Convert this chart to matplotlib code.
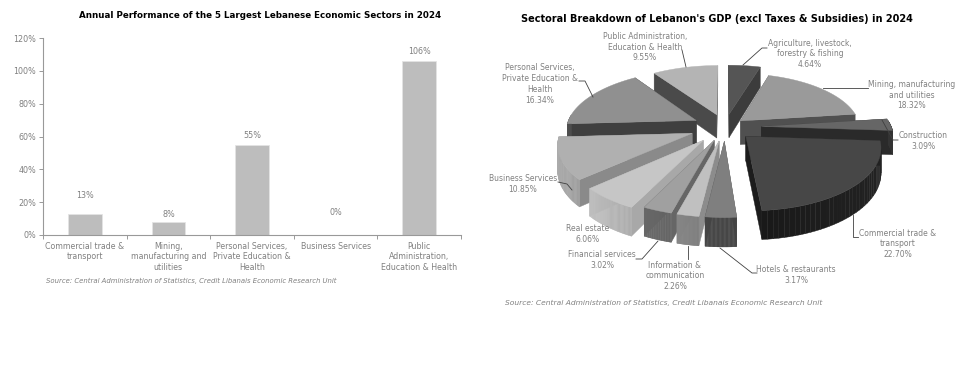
import numpy as np
import matplotlib
matplotlib.use('Agg')
import matplotlib.pyplot as plt
from matplotlib.patches import Polygon

# lewy wykres
bar_labels = ['Commercial trade &\ntransport', 'Mining,\nmanufacturing and\nutilities',
              'Personal Services,\nPrivate Education &\nHealth', 'Business Services',
              'Public\nAdministration,\nEducation & Health']
bar_values = [13, 8, 55, 0, 106]
bar_pad = [18, 7, 9, 22, 9]

# prawy wykres
pie_labels = ['Agriculture, livestock,\nforestry & fishing\n4.64%', 'Mining, manufacturing\nand utilities\n18.32%',
              'Construction\n3.09%', 'Commercial trade &\ntransport\n22.70%', 'Hotels & restaurants\n3.17%',
              'Information &\ncommunication\n2.26%', 'Financial services\n3.02%', 'Real estate\n6.06%',
              'Business Services\n10.85%', 'Personal Services,\nPrivate Education &\nHealth\n16.34%',
              'Public Administration,\nEducation & Health\n9.55%']
pie_values = [4.64, 18.32, 3.09, 22.70, 3.17, 2.26, 3.02, 6.06, 10.85, 16.34, 9.55]
top_cols = ['#555555', '#9a9a9a', '#666666', '#474747', '#7f7f7f', '#c0c0c0', '#a0a0a0', '#c6c6c6', '#b0b0b0', '#909090', '#b4b4b4']
side_cols = ['#3c3c3c', '#505050', '#2a2a2a', '#1c1c1c', '#4d4d4d', '#8c8c8c', '#666666', '#a8a8a8', '#8a8a8a', '#3f3f3f', '#4a4a4a']
explode = [.22, .16, .28, .22, .23, .23, .23, .27, .27, .25, .22]
radius = [1, .92, 1, 1.0, 1, 1, 1, 1, 1, 1, 1]
label_pos = [(810, 54), (912, 95), (923, 141), (898, 244), (796, 275), (675, 276), (602, 260), (588, 234), (523, 184), (540, 84), (645, 47)]
leaders = [[(767, 48), (762, 48), (743, 65)], [(823, 88), (868, 88)], [(882, 120), (893, 140), (898, 140)],
           [(853, 215), (853, 237), (858, 237)], [(720, 248), (752, 273), (757, 273)], [(688, 246), (688, 259)],
           [(658, 241), (642, 259), (636, 259)], [], [(558, 182), (567, 184), (572, 190)],
           [(579, 81), (585, 81), (593, 97)], [(682, 50), (686, 67)]]

gray = '#808080'
plt.rcParams['font.family'] = 'DejaVu Sans'
plt.rcParams['font.size'] = 5.6
W, H = 977, 383
fig = plt.figure(figsize=(W / 100, H / 100), dpi=100)

# slupki
ax = fig.add_axes([43 / W, 1 - 235 / H, 418 / W, 197 / H])
x = np.arange(len(bar_values))
ax.bar(x, bar_values, width=0.4, color='#bdbdbd', edgecolor='#e4e4e4', linewidth=0.6)
for i, v in enumerate(bar_values):
    ax.annotate(f'{v}%', (i, v), xytext=(0, bar_pad[i] * 0.72), textcoords='offset points',
                ha='center', va='center', color=gray, fontsize=5.8)
ax.set_xlim(-0.5, 4.5)
ax.set_ylim(0, 120)
ax.set_yticks(range(0, 121, 20))
ax.set_yticklabels([f'{v}%' for v in range(0, 121, 20)], color=gray, fontsize=5.8)
ax.set_xticks(np.arange(-0.5, 5, 1))
ax.set_xticklabels([])
ax.tick_params(colors='#999999', length=3, width=0.7, pad=2)
ax.tick_params(axis='y', labelcolor=gray)
for i, l in enumerate(bar_labels):
    ax.annotate(l, (i, 0), xytext=(0, -5), textcoords='offset points', ha='center', va='top',
                color=gray, fontsize=5.7, linespacing=1.2)
for s in ['top', 'right']:
    ax.spines[s].set_visible(False)
for s in ['left', 'bottom']:
    ax.spines[s].set_color('#999999')
    ax.spines[s].set_linewidth(0.8)

# warstwa w pikselach na kolowy i teksty
ov = fig.add_axes([0, 0, 1, 1], zorder=3)
ov.set_xlim(0, W)
ov.set_ylim(H, 0)
ov.axis('off')

cx, cy, a, b, k, h = 725, 127, 130, 60, 0.15, 24


def rzut(ux, uy, z=0.0):
    s = 1 / (1 - k * uy)
    return cx + a * ux * s, cy + b * uy * s + h * s * z


def jasniej(kol, f):
    c = np.array(matplotlib.colors.to_rgb(kol)) * f
    return np.clip(c, 0, 1)


vals = np.array(pie_values)
ends = np.cumsum(vals) / vals.sum() * 2 * np.pi
starts = ends - vals / vals.sum() * 2 * np.pi
mids = (starts + ends) / 2
order = np.argsort(-np.cos(mids))  # od tylu do przodu

for i in order:
    t = np.linspace(starts[i], ends[i], 40)
    ox, oy = explode[i] * np.sin(mids[i]), -explode[i] * np.cos(mids[i])
    ux = ox + radius[i] * np.sin(t)
    uy = oy - radius[i] * np.cos(t)
    # sciany przy wierzcholku
    for px, py in [(ux[0], uy[0]), (ux[-1], uy[-1])]:
        pts = [rzut(ox, oy), rzut(px, py), rzut(px, py, 1), rzut(ox, oy, 1)]
        ov.add_patch(Polygon(pts, closed=True, fc=side_cols[i], ec=side_cols[i], lw=0.3))
    # sciana zewnetrzna z lekkim cieniowaniem
    for j in range(len(t) - 1):
        if np.cos(t[j]) < 0.1:
            pts = [rzut(ux[j], uy[j]), rzut(ux[j + 1], uy[j + 1]), rzut(ux[j + 1], uy[j + 1], 1), rzut(ux[j], uy[j], 1)]
            kol = jasniej(side_cols[i], 0.85 + 0.4 * abs(np.sin(t[j])))
            ov.add_patch(Polygon(pts, closed=True, fc=kol, ec=kol, lw=0.3))
    top = [rzut(ox, oy)] + [rzut(p, q) for p, q in zip(ux, uy)]
    ov.add_patch(Polygon(top, closed=True, fc=top_cols[i], ec=top_cols[i], lw=0.3))

for l, (tx, ty), ld in zip(pie_labels, label_pos, leaders):
    ov.text(tx, ty, l, ha='center', va='center', color=gray, fontsize=5.5, linespacing=1.25)
    if ld:
        ov.plot([p[0] for p in ld], [p[1] for p in ld], color='#404040', lw=0.6)

ov.text(260, 15, 'Annual Performance of the 5 Largest Lebanese Economic Sectors in 2024',
        ha='center', va='center', color='black', fontsize=6.3, fontweight='bold')
ov.text(717, 19, "Sectoral Breakdown of Lebanon's GDP (excl Taxes & Subsidies) in 2024",
        ha='center', va='center', color='black', fontsize=7.0, fontweight='bold')
ov.text(46, 281, 'Source: Central Administration of Statistics, Credit Libanais Economic Research Unit',
        ha='left', va='center', color=gray, fontsize=4.95, style='italic')
ov.text(505, 303, 'Source: Central Administration of Statistics, Credit Libanais Economic Research Unit',
        ha='left', va='center', color=gray, fontsize=5.4, style='italic')

fig.savefig('out.png', dpi=100)
